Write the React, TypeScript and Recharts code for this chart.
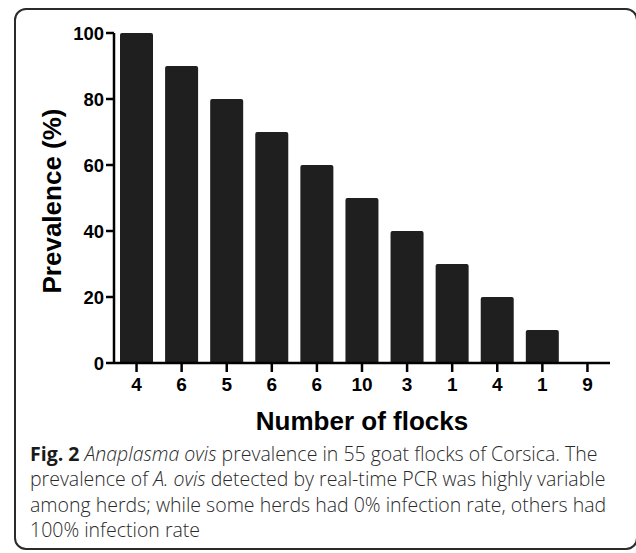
import React from 'react';
import { BarChart, Bar, XAxis, YAxis } from 'recharts';

const flockCounts = ['4', '6', '5', '6', '6', '10', '3', '1', '4', '1', '9'];
const prevalence = [100, 90, 80, 70, 60, 50, 40, 30, 20, 10, 0];
const yTicks = [0, 20, 40, 60, 80, 100];

const data = prevalence.map((v, i) => ({ idx: i, prevalence: v }));

const tickFont = 'Liberation Sans, Arial, Helvetica, sans-serif';

const YLabel = (props: any) => {
  const vb = props.viewBox || { x: 0, y: 0, width: 114, height: 330 };
  const cx = vb.x + 52;
  const cy = vb.y + vb.height / 2 + 3;
  return (
    <text
      x={cx}
      y={cy}
      transform={`rotate(-90 ${cx} ${cy})`}
      textAnchor="middle"
      dominantBaseline="central"
      fontFamily={tickFont}
      fontWeight="bold"
      fontSize={26}
      fill="#000"
    >
      Prevalence (%)
    </text>
  );
};

export default function App() {
  return (
    <div style={{ position: 'absolute', left: 0, top: 0, width: 636, height: 553, background: '#fff', overflow: 'hidden' }}>
      <div
        style={{
          position: 'absolute',
          left: 14,
          top: 8,
          width: 624,
          height: 542,
          boxSizing: 'border-box',
          border: '2px solid #2b2b2b',
          borderRadius: 12,
        }}
      />
      <div style={{ position: 'absolute', left: 0, top: 0 }}>
        <BarChart width={636} height={440} data={data} margin={{ top: 33, right: 26, left: 0, bottom: 0 }} barSize={33}>
          <XAxis
            dataKey="idx"
            type="category"
            height={77}
            tickFormatter={(v: any) => flockCounts[Number(v)]}
            interval={0}
            axisLine={{ stroke: '#000', strokeWidth: 2.5 }}
            tickLine={{ stroke: '#000', strokeWidth: 2.5 }}
            tickSize={9}
            tickMargin={6}
            tick={{ fill: '#000', fontSize: 19, fontWeight: 'bold', fontFamily: tickFont }}
            label={{
              value: 'Number of flocks',
              position: 'insideBottom',
              offset: 10,
              fill: '#000',
              fontSize: 26,
              fontWeight: 'bold',
              fontFamily: tickFont,
            }}
          />
          <YAxis
            width={114}
            domain={[0, 100]}
            ticks={yTicks}
            interval={0}
            axisLine={{ stroke: '#000', strokeWidth: 2.5 }}
            tickLine={{ stroke: '#000', strokeWidth: 2.5 }}
            tickSize={8}
            tickMargin={2}
            tick={{ fill: '#000', fontSize: 18.5, fontWeight: 'bold', fontFamily: tickFont }}
            label={<YLabel />}
          />
          <Bar dataKey="prevalence" fill="#1f1f1f" radius={[2, 2, 0, 0]} isAnimationActive={false} />
        </BarChart>
      </div>
      <div
        style={{
          position: 'absolute',
          left: 30,
          top: 441,
          fontFamily: '"Open Sans", sans-serif',
          fontSize: 19.5,
          fontWeight: 300,
          lineHeight: '25.3px',
          color: '#2a2a2a',
          whiteSpace: 'nowrap',
        }}
      >
        <div>
          <b style={{ color: '#1a1a1a', fontWeight: 700 }}>Fig. 2</b> <i>Anaplasma ovis</i> prevalence in 55 goat flocks of Corsica. The
        </div>
        <div>
          prevalence of <i>A. ovis</i> detected by real-time PCR was highly variable
        </div>
        <div>among herds; while some herds had 0% infection rate, others had</div>
        <div>100% infection rate</div>
      </div>
    </div>
  );
}
